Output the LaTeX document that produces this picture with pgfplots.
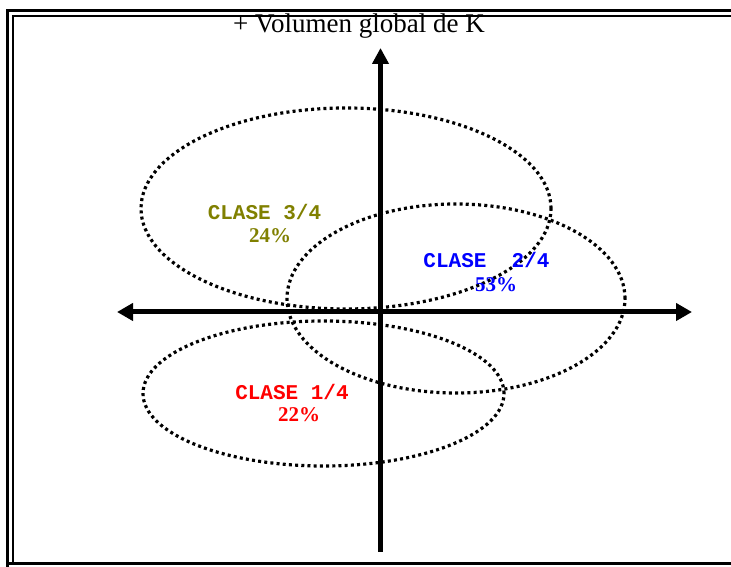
\documentclass[border=0pt]{standalone}
\usepackage{pgfplots}
\pgfplotsset{compat=1.18}
\usepackage{fontspec}
\setmainfont{Liberation Serif}
\newfontfamily\mono{Liberation Mono}
\usetikzlibrary{arrows.meta}
\definecolor{olivec}{HTML}{808000}
\begin{document}
\begin{tikzpicture}
\begin{axis}[
  scale only axis, width=731pt, height=567pt,
  xmin=0, xmax=731, ymin=0, ymax=567,
  hide axis, clip=false,
]
% frame
\addplot[black, line width=3pt, forget plot] coordinates {(7.5,0) (7.5,556) (740,556)};
\addplot[black, line width=1.5pt, forget plot] coordinates {(13,3) (13,551) (740,551)};
\addplot[black, line width=3pt, forget plot] coordinates {(6,3) (740,3)};
% title
\node[anchor=base, font=\fontsize{27}{29}\selectfont] at (axis cs:359,534) {+ Volumen global de K};
% ellipses
\draw[black, line width=3.2pt, dash pattern=on 3pt off 3.2pt] (axis cs:346,358.5) ellipse [x radius=205, y radius=100.5];
\draw[black, line width=3.2pt, dash pattern=on 3pt off 3.2pt] (axis cs:456,268.5) ellipse [x radius=169, y radius=94.5];
\draw[black, line width=3.2pt, dash pattern=on 3pt off 3.2pt] (axis cs:323.5,173.5) ellipse [x radius=180.5, y radius=72.5];
% axes arrows
\addplot[black, line width=5pt, {Triangle[length=16pt,width=17pt]}-{Triangle[length=16pt,width=17pt]}] coordinates {(117,255) (692,255)};
\addplot[black, line width=5pt, -{Triangle[length=16pt,width=16pt]}] coordinates {(380.5,15) (380.5,519)};
% labels
\node[font=\mono\bfseries\fontsize{21}{22}\selectfont, text=olivec] at (axis cs:264.5,355) {CLASE 3/4};
\node[font=\bfseries\fontsize{21}{22}\selectfont, text=olivec] at (axis cs:270,331) {24\%};
\node[font=\mono\bfseries\fontsize{21}{22}\selectfont, text=blue] at (axis cs:486.5,306.5) {CLASE\ \ 2/4};
\node[font=\bfseries\fontsize{21}{22}\selectfont, text=blue] at (axis cs:496,282) {53\%};
\node[font=\mono\bfseries\fontsize{21}{22}\selectfont, text=red] at (axis cs:292,175) {CLASE 1/4};
\node[font=\bfseries\fontsize{21}{22}\selectfont, text=red] at (axis cs:299,152) {22\%};
\end{axis}
\pgfresetboundingbox
\path (0,0) rectangle (731pt,567pt);
\end{tikzpicture}
\end{document}
